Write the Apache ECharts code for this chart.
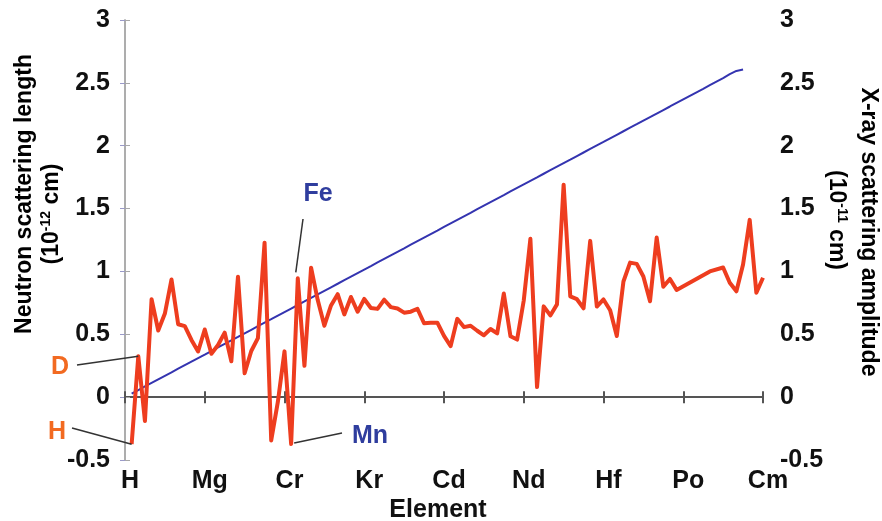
<!DOCTYPE html>
<html>
<head>
<meta charset="utf-8">
<script src="https://cdn.jsdelivr.net/npm/echarts@6/dist/echarts.min.js"></script>
<style>
  html, body { margin: 0; padding: 0; background: #fff; }
  #chart { width: 882px; height: 521px; }
</style>
</head>
<body>
<div id="chart"></div>
<script>
// element symbols, Z = 1..96
var elements = ['H','He','Li','Be','B','C','N','O','F','Ne','Na','Mg','Al','Si','P','S','Cl','Ar','K','Ca',
  'Sc','Ti','V','Cr','Mn','Fe','Co','Ni','Cu','Zn','Ga','Ge','As','Se','Br','Kr','Rb','Sr','Y','Zr',
  'Nb','Mo','Tc','Ru','Rh','Pd','Ag','Cd','In','Sn','Sb','Te','I','Xe','Cs','Ba','La','Ce','Pr','Nd',
  'Pm','Sm','Eu','Gd','Tb','Dy','Ho','Er','Tm','Yb','Lu','Hf','Ta','W','Re','Os','Ir','Pt','Au','Hg',
  'Tl','Pb','Bi','Po','At','Rn','Fr','Ra','Ac','Th','Pa','U','Np','Pu','Am','Cm']

// neutron scattering length (10^-12 cm), null = no value
var neutronB = [-0.374, 0.326, -0.190, 0.779, 0.530, 0.665, 0.936, 0.580, 0.565, 0.455,
  0.363, 0.538, 0.345, 0.415, 0.513, 0.285, 0.958, 0.190, 0.367, 0.470,
  1.229, -0.344, -0.038, 0.364, -0.373, 0.945, 0.249, 1.030, 0.772, 0.568,
  0.729, 0.819, 0.658, 0.797, 0.679, 0.781, 0.709, 0.702, 0.775, 0.716,
  0.705, 0.672, 0.680, 0.703, 0.588, 0.591, 0.592, 0.487, 0.406, 0.623,
  0.557, 0.568, 0.528, 0.492, 0.542, 0.507, 0.824, 0.484, 0.458, 0.769,
  1.260, 0.080, 0.722, 0.650, 0.738, 1.690, 0.801, 0.779, 0.707, 1.243,
  0.721, 0.777, 0.691, 0.486, 0.920, 1.070, 1.060, 0.960, 0.763, 1.269,
  0.878, 0.940, 0.853, null, null, null, null, 1.000, null, 1.031,
  0.910, 0.842, 1.055, 1.410, 0.830, 0.950]

// X-ray scattering amplitude (10^-11 cm), H..Np
var xrayF = [0.028, 0.056, 0.085, 0.113, 0.141, 0.169, 0.197, 0.226, 0.254, 0.282,
  0.310, 0.338, 0.367, 0.395, 0.423, 0.451, 0.479, 0.508, 0.536, 0.564,
  0.592, 0.620, 0.649, 0.677, 0.705, 0.733, 0.761, 0.790, 0.818, 0.846,
  0.874, 0.902, 0.931, 0.959, 0.987, 1.015, 1.043, 1.072, 1.100, 1.128,
  1.156, 1.184, 1.213, 1.241, 1.269, 1.297, 1.325, 1.354, 1.382, 1.410,
  1.438, 1.466, 1.495, 1.523, 1.551, 1.579, 1.607, 1.636, 1.664, 1.692,
  1.720, 1.748, 1.777, 1.805, 1.833, 1.861, 1.889, 1.918, 1.946, 1.974,
  2.002, 2.030, 2.059, 2.087, 2.115, 2.143, 2.171, 2.200, 2.228, 2.256,
  2.284, 2.312, 2.341, 2.369, 2.397, 2.425, 2.453, 2.482, 2.510, 2.538,
  2.570, 2.595, 2.607]

// x tick labels (tick value -> text)
var tickValues = [0, 12, 24, 36, 48, 60, 72, 84, 96]
var tickLabels = ['H', 'Mg', 'Cr', 'Kr', 'Cd', 'Nd', 'Hf', 'Po', 'Cm']

var FONT = '"Liberation Sans", Arial, sans-serif'
var RED = '#ee3d1f'
var BLUE = '#3434b0'

var redData = []
neutronB.forEach(function (v, i) {
  if (v !== null) redData.push([i + 1, v])
})
var blueData = xrayF.map(function (v, i) { return [i + 1, v] })

var chart = echarts.init(document.getElementById('chart'))

var xBase = { type: 'value', min: 0, max: 96, interval: 12, splitLine: { show: false } }

chart.setOption({
  animation: false,
  grid: { left: 125, right: 119, top: 20, bottom: 61 },
  xAxis: [
    Object.assign({}, xBase, {
      position: 'bottom',
      axisLine: { show: false, onZero: false },
      axisTick: { show: false },
      axisLabel: {
        margin: 9,
        padding: [0, 0, 0, 10],
        fontFamily: FONT, fontWeight: 'bold', fontSize: 25, color: '#111',
        formatter: function (v) {
          var k = tickValues.indexOf(v)
          return k >= 0 ? tickLabels[k] : ''
        }
      }
    }),
    Object.assign({}, xBase, {
      position: 'bottom',
      axisLine: { onZero: true, onZeroAxisIndex: 0, lineStyle: { color: '#555', width: 2 } },
      axisTick: { length: 6, lineStyle: { color: '#555', width: 2 } },
      axisLabel: { show: false }
    }),
    Object.assign({}, xBase, {
      position: 'top',
      axisLine: { show: false, onZero: true, onZeroAxisIndex: 0 },
      axisTick: { length: 6, lineStyle: { color: '#555', width: 2 } },
      axisLabel: { show: false }
    })
  ],
  yAxis: [
    {
      type: 'value', min: -0.5, max: 3, interval: 0.5, position: 'left',
      splitLine: { show: false },
      axisLine: { show: true, lineStyle: { color: '#a8a8a8', width: 1.5 } },
      axisTick: { show: true, inside: true, length: 5, lineStyle: { color: '#a8a8a8' } },
      axisLabel: { margin: 15, fontFamily: FONT, fontWeight: 'bold', fontSize: 25, color: '#111' }
    },
    {
      type: 'value', min: -0.5, max: 3, interval: 0.5, position: 'right',
      splitLine: { show: false },
      axisLine: { show: true, lineStyle: { color: '#a8a8a8', width: 1.5 } },
      axisTick: { show: true, inside: true, length: 5, lineStyle: { color: '#9a9ac8' } },
      axisLabel: { margin: 17, fontFamily: FONT, fontWeight: 'bold', fontSize: 25, color: '#111' }
    }
  ],
  series: [
    {
      name: 'X-ray',
      type: 'line',
      xAxisIndex: 0,
      yAxisIndex: 1,
      showSymbol: false,
      data: blueData,
      lineStyle: { color: BLUE, width: 2 },
      z: 2
    },
    {
      name: 'Neutron',
      type: 'line',
      xAxisIndex: 0,
      yAxisIndex: 0,
      showSymbol: false,
      connectNulls: true,
      data: redData,
      lineStyle: { color: RED, width: 4, join: 'round' },
      z: 3
    }
  ]
})

// annotations pointing at data points
function px(z, v) {
  return chart.convertToPixel({ xAxisIndex: 0, yAxisIndex: 0 }, [z, v])
}
var pH = px(1, neutronB[0])
var pD = px(2, neutronB[1])
var pFe = px(26, neutronB[25])
var pMn = px(25, neutronB[24])

function label(text, x, y, color) {
  return {
    type: 'text', x: x, y: y, z: 10,
    style: {
      text: text, fill: color, font: 'bold 25px ' + FONT,
      align: 'center', verticalAlign: 'middle',
      textAlign: 'center', textVerticalAlign: 'middle'
    }
  }
}
function pointer(x1, y1, x2, y2) {
  return {
    type: 'line', z: 9,
    shape: { x1: x1, y1: y1, x2: x2, y2: y2 },
    style: { stroke: '#333', lineWidth: 1.5 }
  }
}
var titleRich = {
  b: { fontFamily: FONT, fontWeight: 'bold', fontSize: 23, color: '#111', lineHeight: 26 },
  s: { fontFamily: FONT, fontWeight: 'bold', fontSize: 14, color: '#111', lineHeight: 26, verticalAlign: 'top', padding: [0, 0, 8, 0] }
}
function title(text, x, y, rot) {
  return {
    type: 'text', x: x, y: y, rotation: rot, z: 10,
    style: {
      text: text, rich: titleRich,
      align: 'center', verticalAlign: 'middle',
      textAlign: 'center', textVerticalAlign: 'middle'
    }
  }
}

chart.setOption({
  graphic: [
    label('D', 60, 367, '#f26a21'),
    pointer(77, 365, pD[0], pD[1]),
    label('H', 57, 432, '#f26a21'),
    pointer(72, 428, pH[0], pH[1]),
    label('Fe', 318, 194, '#2f3d9e'),
    pointer(303, 219, pFe[0] - 2, pFe[1] - 6),
    label('Mn', 370, 436, '#2f3d9e'),
    pointer(342, 433, pMn[0] + 3, pMn[1] - 1),
    title('{b|Neutron scattering length}', 25, 194, Math.PI / 2),
    title('{b|(10}{s|-12}{b| cm)}', 52, 214, Math.PI / 2),
    title('{b|X-ray scattering amplitude}', 868, 232, -Math.PI / 2),
    title('{b|(10}{s|-11}{b| cm)}', 836, 220, -Math.PI / 2),
    {
      type: 'text', x: 438, y: 510, z: 10,
      style: {
        text: 'Element', fill: '#111', font: 'bold 25px ' + FONT,
        align: 'center', verticalAlign: 'middle',
        textAlign: 'center', textVerticalAlign: 'middle'
      }
    }
  ]
})
</script>
</body>
</html>
